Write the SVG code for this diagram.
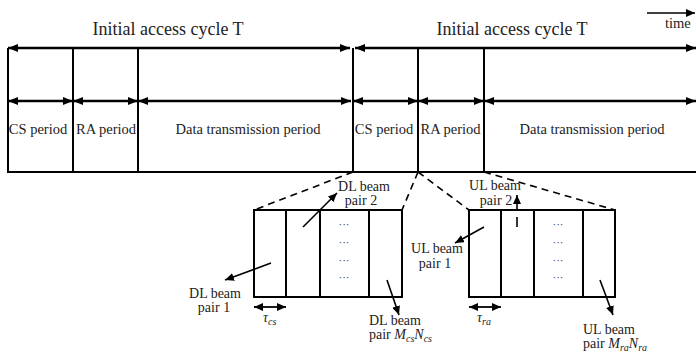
<svg xmlns="http://www.w3.org/2000/svg" width="696" height="352" viewBox="0 0 696 352" font-family="'Liberation Serif', 'Times New Roman', 'DejaVu Serif', serif">
<defs>
<marker id="ah" viewBox="0 0 10 8" refX="10" refY="4" markerWidth="10" markerHeight="8" markerUnits="userSpaceOnUse" orient="auto-start-reverse"><path d="M0,0 L10,4 L0,8 z" fill="#000"/></marker>
<marker id="as" viewBox="0 0 9 8" refX="9" refY="4" markerWidth="9" markerHeight="8" markerUnits="userSpaceOnUse" orient="auto-start-reverse"><path d="M0,0 L9,4 L0,8 z" fill="#000"/></marker>
</defs>
<style>
text{font-family:'Liberation Serif','Times New Roman','DejaVu Serif',serif;fill:#222}
.big{font-size:18px}
.med{font-size:14.5px}
.sm{font-size:14px}
.c{text-anchor:middle}
.i{font-style:italic}
.sub{font-style:italic;font-size:10px}
.ln{stroke:#000;stroke-width:2;fill:none}
.ar{stroke:#000;stroke-width:2.4;fill:none;marker-start:url(#ah);marker-end:url(#ah)}
.dash{stroke:#000;stroke-width:1.6;stroke-dasharray:7 5;fill:none}
.la{stroke:#000;stroke-width:1.6;fill:none;marker-end:url(#as)}
.da{stroke:#000;stroke-width:1.8;fill:none;marker-start:url(#as);marker-end:url(#as)}
.dots{font-size:11px;text-anchor:middle;fill:#333}
</style>
<rect width="696" height="352" fill="#fff"/>

<g id="timeline">
  <path class="ln" d="M8,48 V172 H696 M73,48 V172 M138,48 V172 M353,48 V172 M418,48 V172 M484,48 V172"/>
</g>

<g id="cycle1">
  <text class="big c" x="168" y="35">Initial access cycle T</text>
  <text class="med c" x="38" y="134">CS period</text>
  <text class="med c" x="106" y="134">RA period</text>
  <text class="med c" x="248" y="134">Data transmission period</text>
</g>
<g id="cycle2">
  <text class="big c" x="512" y="35">Initial access cycle T</text>
  <text class="med c" x="384" y="134">CS period</text>
  <text class="med c" x="450.5" y="134">RA period</text>
  <text class="med c" x="592" y="134">Data transmission period</text>
</g>
<g id="time-axis">
  <text class="med" x="665" y="28">time</text>
</g>

<g id="cs-box">
  <path class="ln" d="M254,210 H402 V297 H254 Z M286,210 V297 M320,210 V297 M369,210 V297"/>
  <text class="dots" x="344" y="228">···</text>
  <text class="dots" x="344" y="246">···</text>
  <text class="dots" x="344" y="264">···</text>
  <text class="dots" x="344" y="281">···</text>
</g>
<g id="ra-box">
  <path class="ln" d="M469,210 H615 V297 H469 Z M501,210 V297 M534,210 V297 M583,210 V297"/>
  <text class="dots" x="558" y="228">···</text>
  <text class="dots" x="558" y="246">···</text>
  <text class="dots" x="558" y="264">···</text>
  <text class="dots" x="558" y="281">···</text>
</g>

<g id="dl-pair2">
  <text class="sm c" x="364" y="191">DL beam</text>
  <text class="sm c" x="361" y="205">pair 2</text>
</g>
<g id="dl-pair1">
  <text class="sm c" x="215" y="298">DL beam</text>
  <text class="sm c" x="214" y="312">pair 1</text>
</g>
<g id="dl-pairM">
  <text class="sm" x="369" y="325">DL beam</text>
  <text class="sm" x="369" y="339">pair <tspan class="i">M</tspan><tspan class="sub" baseline-shift="-3">cs</tspan><tspan class="i">N</tspan><tspan class="sub" baseline-shift="-3">cs</tspan></text>
</g>
<g id="tau-cs">
  <text class="sm i" x="263" y="322">τ<tspan class="sub" baseline-shift="-3">cs</tspan></text>
</g>
<g id="ul-pair2">
  <text class="sm c" x="495" y="190">UL beam</text>
  <text class="sm c" x="496" y="205">pair 2</text>
</g>
<g id="ul-pair1">
  <text class="sm c" x="437" y="253">UL beam</text>
  <text class="sm c" x="435" y="268">pair 1</text>
</g>
<g id="ul-pairM">
  <text class="sm" x="583" y="334">UL beam</text>
  <text class="sm" x="583" y="348">pair <tspan class="i">M</tspan><tspan class="sub" baseline-shift="-3">ra</tspan><tspan class="i">N</tspan><tspan class="sub" baseline-shift="-3">ra</tspan></text>
</g>
<g id="tau-ra">
  <text class="sm i" x="477" y="322">τ<tspan class="sub" baseline-shift="-3">ra</tspan></text>
</g>

<g id="connectors">
  <line class="ar" x1="8" y1="48" x2="350" y2="48"/>
  <line class="ar" x1="355" y1="48" x2="696" y2="48"/>
  <line class="ar" x1="8" y1="101" x2="73" y2="101"/>
  <line class="ar" x1="73" y1="101" x2="138" y2="101"/>
  <line class="ar" x1="138" y1="101" x2="351" y2="101"/>
  <line class="ar" x1="353" y1="101" x2="418" y2="101"/>
  <line class="ar" x1="418" y1="101" x2="484" y2="101"/>
  <line class="ar" x1="484" y1="101" x2="696" y2="101"/>
  <line class="la" x1="647" y1="13" x2="695" y2="13"/>
  <line class="dash" x1="353" y1="172" x2="254" y2="210"/>
  <line class="dash" x1="418" y1="172" x2="402" y2="210"/>
  <line class="dash" x1="418" y1="172" x2="469" y2="210"/>
  <line class="dash" x1="484" y1="172" x2="615" y2="210"/>
  <line class="la" x1="303" y1="227" x2="337" y2="193"/>
  <line class="la" x1="271" y1="263" x2="225" y2="280"/>
  <line class="la" x1="387" y1="280" x2="399" y2="315"/>
  <line class="la" x1="484" y1="227" x2="455" y2="243"/>
  <line class="ln" x1="517" y1="227" x2="517" y2="217" style="stroke-width:1.6"/>
  <line class="la" x1="517" y1="210" x2="517" y2="195"/>
  <line class="la" x1="600" y1="280" x2="613" y2="315"/>
  <line class="da" x1="254" y1="307" x2="286" y2="307"/>
  <line class="da" x1="469" y1="307" x2="501" y2="307"/>
</g>
</svg>
